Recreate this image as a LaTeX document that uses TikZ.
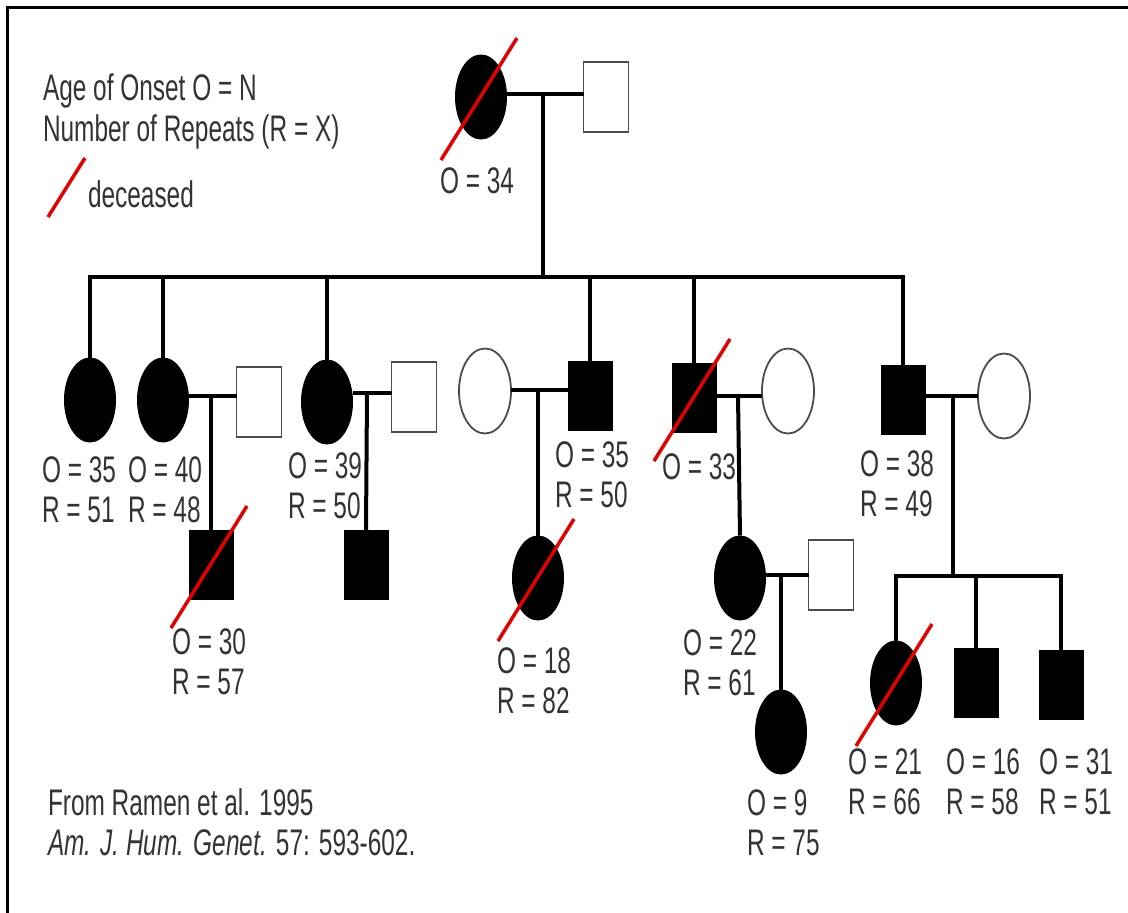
\documentclass[tikz,border=0pt]{standalone}
\usepackage{fontspec}
\setmainfont{Liberation Sans}[FakeStretch=0.66]
\usetikzlibrary{shapes.geometric}
\begin{document}
\begin{tikzpicture}[x=1pt,y=-1pt,
 every node/.style={inner sep=0pt, outer sep=0pt},
 fa/.style={ellipse, fill=black, minimum width=52pt, minimum height=85pt},
 fu/.style={ellipse, draw=black!70, line width=1.8pt, fill=white, minimum width=52pt, minimum height=85pt},
 ma/.style={rectangle, fill=black, minimum width=45pt, minimum height=70pt},
 mu/.style={rectangle, draw=black!70, line width=1.8pt, fill=white, minimum width=45pt, minimum height=70pt},
 lbl/.style={anchor=west, align=left, font=\fontsize{37}{40}\selectfont, text=black!80},
 txt/.style={anchor=base west, font=\fontsize{37}{40}\selectfont, text=black!80},
 ped/.style={line width=4pt},
 dec/.style={draw=red!90!black, line width=3.5pt}]
\useasboundingbox (0,0) rectangle (1128,913);
\draw[line width=3pt] (7,913) -- (7,7) -- (1128,7);

% legend
\node[txt] (leg1) at (43,100) {Age of Onset O = N};
\node[txt] (leg2) at (43,141) {Number of Repeats (R = X)};
\node[txt] (leg3) at (88,207) {deceased};
\draw[dec] (48,217) -- (85,158);
\node[txt] (cit1) at (48,815) {From Ramen et al. 1995};
\node[txt] (cit2) at (48,855) {{\itshape Am. J. Hum. Genet.} 57: 593-602.};

% generation I
\node[fa] (I1) at (481,97) {};
\node[mu] (I2) at (606,97) {};
\coordinate (m0) at (543,94);
\coordinate (s1) at (543,277);
\node[lbl] (lI1) at (440,181) {O = 34};

% generation II
\node[fa] (A) at (90,400) {};
\node[fa] (B) at (163,400) {};
\node[mu] (Bs) at (259,402) {};
\coordinate (mB) at (211,396);
\node[ma] (B1) at (211,565) {};
\node[fa] (C) at (327,402) {};
\node[mu] (Cs) at (414,397) {};
\coordinate (mC) at (367,393);
\node[ma] (C1) at (366,565) {};
\node[fu] (Ds) at (485,391) {};
\node[ma] (D) at (590,396) {};
\coordinate (mD) at (538,390);
\node[fa] (D1) at (538,578) {};
\node[ma] (E) at (694,398) {};
\node[fu] (Es) at (788,391) {};
\coordinate (mE) at (738,396);
\node[fa] (E1) at (740,578) {};
\node[mu] (E1s) at (831,575) {};
\coordinate (mE1) at (781,575);
\node[fa] (E1a) at (781,732) {};
\node[ma] (F) at (903,400) {};
\node[fu] (Fs) at (1004,396) {};
\coordinate (mF) at (953,396);
\coordinate (s2) at (953,576);
\node[fa] (F1) at (896,683) {};
\node[ma] (F2) at (976,683) {};
\node[ma] (F3) at (1061,685) {};

% labels
\node[lbl] (lA) at (42,490) {O = 35\\R = 51};
\node[lbl] (lB) at (128,490) {O = 40\\R = 48};
\node[lbl] (lB1) at (172,662) {O = 30\\R = 57};
\node[lbl] (lC) at (288,486) {O = 39\\R = 50};
\node[lbl] (lD) at (555,475) {O = 35\\R = 50};
\node[lbl] (lE) at (662,467) {O = 33};
\node[lbl] (lD1) at (497,681) {O = 18\\R = 82};
\node[lbl] (lE1) at (683,663) {O = 22\\R = 61};
\node[lbl] (lE1a) at (747,823) {O = 9\\R = 75};
\node[lbl] (lF) at (860,484) {O = 38\\R = 49};
\node[lbl] (lF1) at (848,782) {O = 21\\R = 66};
\node[lbl] (lF2) at (946,782) {O = 16\\R = 58};
\node[lbl] (lF3) at (1039,782) {O = 31\\R = 51};

% connectors
\draw[ped] (I1.east |- m0) -- (I2.west |- m0);
\draw[ped] (m0) -- (s1);
\draw[ped] (A.north) -- (A.north |- s1) -- (F.north |- s1) -- (F.north);
\foreach \n in {B,C,D,E} \draw[ped] (\n.north) -- (\n.north |- s1);
\draw[ped] (B.east |- mB) -- (Bs.west |- mB);
\draw[ped] (mB) -- (B1.north);
\draw[ped] (C.east |- mC) -- (Cs.west |- mC);
\draw[ped] (mC) -- (C1.north);
\draw[ped] (Ds.east |- mD) -- (D.west |- mD);
\draw[ped] (mD) -- (D1.north);
\draw[ped] (E.east |- mE) -- (Es.west |- mE);
\draw[ped] (mE) -- (E1.north);
\draw[ped] (E1.east |- mE1) -- (E1s.west |- mE1);
\draw[ped] (mE1) -- (E1a.north);
\draw[ped] (F.east |- mF) -- (Fs.west |- mF);
\draw[ped] (mF) -- (s2);
\draw[ped] (F1.north) -- (F1.north |- s2) -- (F3.north |- s2) -- (F3.north);
\draw[ped] (F2.north) -- (F2.north |- s2);

% deceased marks
\foreach \n in {I1,B1,D1,E,F1}
  \draw[dec] ([shift={(-40,63)}]\n.center) -- ([shift={(36,-59)}]\n.center);
\end{tikzpicture}
\end{document}
